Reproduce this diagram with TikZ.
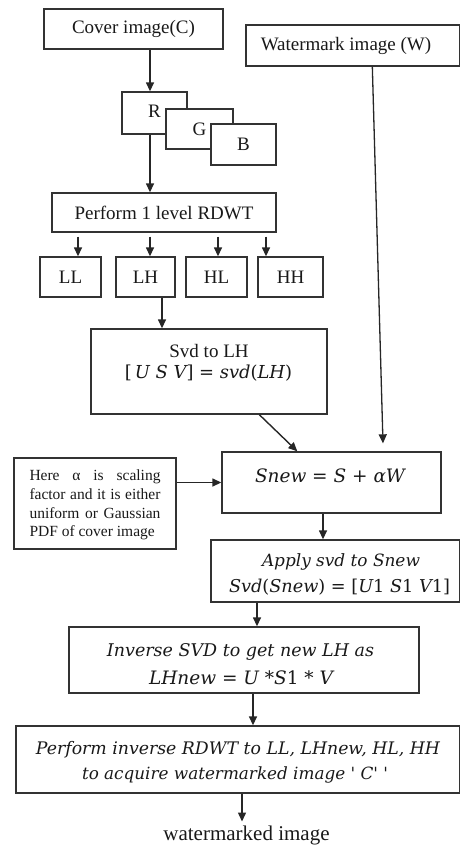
\documentclass[tikz,border=0pt]{standalone}
\usepackage{fontspec}
\setmainfont{Liberation Serif}
\newfontfamily\mfnt{DejaVu Serif}
\usetikzlibrary{arrows.meta,calc}
\newcommand\mw[2]{\resizebox{#1pt}{!}{\fontsize{17}{20}\selectfont\mfnt\itshape #2}}
\begin{document}
\begin{tikzpicture}[x=1pt,y=-1pt,
  box/.style={draw=black!80,line width=1.35pt,fill=white,inner sep=0pt,
    font=\fontsize{19}{22}\selectfont,text=black!90},
  arr/.style={-{Triangle[length=9pt,width=8pt]},line width=1.4pt,draw=black!85},
  txt/.style={inner sep=0pt,text=black!90},
]
\useasboundingbox (0,0) rectangle (459,845);
% boxes
\node[box,minimum width=179pt,minimum height=40pt] (cover) at (133.5,29) {Cover image(C)};
\node[box,minimum width=214pt,minimum height=41pt] (wm) at (353,45.5) {\hspace*{-2pt}Watermark image (W)\hspace*{12pt}};
\node[box,minimum width=65pt,minimum height=42pt] (r) at (154.5,113) {\raisebox{3pt}{R}};
\node[box,minimum width=67pt,minimum height=40pt] (g) at (199.5,129) {G};
\node[box,minimum width=65pt,minimum height=41pt] (b) at (243.5,144.5) {B};
\node[box,minimum width=224pt,minimum height=39pt] (rdwt) at (164,212.5) {Perform 1 level RDWT};
\node[box,minimum width=61pt,minimum height=40pt] (ll) at (70.5,277) {LL};
\node[box,minimum width=59pt,minimum height=40pt] (lh) at (145.5,277) {LH};
\node[box,minimum width=61pt,minimum height=40pt] (hl) at (216.5,277) {HL};
\node[box,minimum width=65pt,minimum height=40pt] (hh) at (290.5,277) {HH};
\node[box,minimum width=236pt,minimum height=85pt] (svd) at (209,371.5) {};
\node[box,minimum width=219pt,minimum height=61pt] (snew) at (331.5,482.5) {};
\node[box,minimum width=162pt,minimum height=91pt] (here) at (95,503.5) {};
\node[box,minimum width=249pt,minimum height=62pt] (apply) at (335.5,571) {};
\node[box,minimum width=350pt,minimum height=66pt] (inv) at (244,660) {};
\node[box,minimum width=444pt,minimum height=67pt] (perf) at (238,759.5) {};
% texts
\node[txt,font=\fontsize{19}{22}\selectfont] (svdt1) at (209,351) {Svd to LH};
\node[txt] (svdt2) at (208.5,373) {\mw{167}{{\upshape[}\,U S V{\upshape]} = svd{\upshape(}LH{\upshape)}}};
\node[txt] (snewt) at (330,475.5) {\mw{150}{Snew = S + αW}};
\node[txt,text width=131pt,align=justify,font=\fontsize{15.5}{18.6}\selectfont] (heret) at (95,505)
  {Here α is scaling\linebreak factor and it is either\linebreak uniform or Gaussian\linebreak PDF of cover image};
\node[txt] (applyt1) at (341,562) {\mw{158}{Apply svd to Snew}};
\node[txt] (applyt2) at (339.5,587) {\mw{221}{Svd{\upshape(}Snew{\upshape)} = {\upshape[}U{\upshape1} S{\upshape1} V{\upshape1}{\upshape]}}};
\node[txt] (invt1) at (240.5,652) {\mw{267}{Inverse SVD to get new LH as}};
\node[txt] (invt2) at (241,678) {\mw{184}{LHnew = U {\upshape *}S{\upshape 1} {\upshape *} V}};
\node[txt] (perft1) at (238,750) {\mw{404}{Perform inverse RDWT to LL, LHnew, HL, HH}};
\node[txt] (perft2) at (235,775) {\mw{306}{to acquire watermarked image {\upshape'} C{\upshape' '}}};
\node[txt,anchor=north,font=\fontsize{21}{23}\selectfont] (out) at (246.5,825.5) {watermarked image};
% connectors
\coordinate (c1) at ([xshift=-4.5pt]r.north);
\draw[arr] (c1 |- cover.south) -- (c1);
\coordinate (c2) at ([xshift=-4.5pt]r.south);
\draw[arr] (c2) -- (c2 |- rdwt.north);
\foreach \n/\dx in {ll/7.5,lh/4.5,hl/1.5,hh/-24.5}{
  \coordinate (t\n) at ([xshift=\dx pt]\n.north);
  \path (t\n |- rdwt.south) ++(0,4) coordinate (s\n);
  \draw[arr] (s\n) -- (t\n);
}
\coordinate (c3) at ([xshift=16.5pt]lh.south);
\draw[arr] (c3) -- (c3 |- svd.north);
\path (wm.south west) ++(127,0) coordinate (wmstart);
\path (snew.north) ++(51.5,-8) coordinate (wmend);
\draw[arr,line width=1.3pt] (wmstart) -- (wmend);
\path (svd.south west) ++(169,0) coordinate (d1);
\path (snew.north west) ++(76,0) coordinate (d2);
\draw[arr] (d1) -- (d2);
\draw[arr] (snew.west -| here.east) -- (snew.west);
\coordinate (c4) at ([xshift=-8.5pt]snew.south);
\draw[arr] (c4) -- (c4 |- apply.north);
\coordinate (c5) at ([xshift=13pt]inv.north);
\draw[arr] (c5 |- apply.south) -- (c5);
\coordinate (c6) at ([xshift=9pt]inv.south);
\draw[arr] (c6) -- (c6 |- perf.north);
\coordinate (c7) at ([xshift=4pt]perf.south);
\path (c7 |- out.north) ++(0,-4) coordinate (c8);
\draw[arr] (c7) -- (c8);
\end{tikzpicture}
\end{document}
